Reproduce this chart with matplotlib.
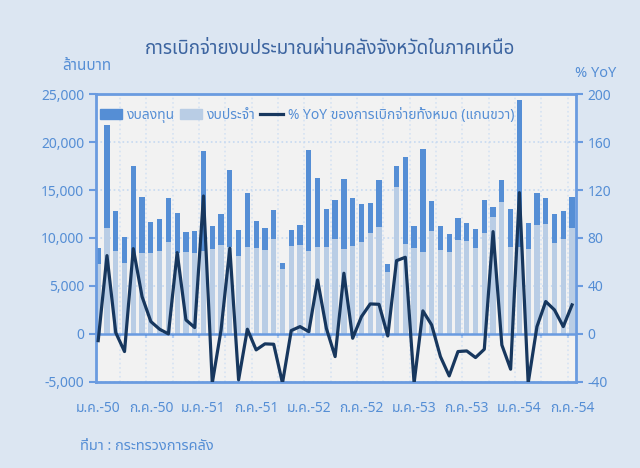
import matplotlib
matplotlib.use("Agg")
import matplotlib.pyplot as plt
import numpy as np
from matplotlib import font_manager
from matplotlib.ft2font import FT2Font
from matplotlib.patches import Patch
from matplotlib.lines import Line2D

# หา font ที่มีอักษรไทย
def thai_font():
    names = []
    for f in font_manager.fontManager.ttflist:
        try:
            if FT2Font(f.fname).get_char_index(0x0E01):
                names.append(f.name)
        except Exception:
            pass
    for pref in ["Tahoma", "Noto Sans Thai", "Noto Sans Thai UI", "Loma", "Garuda", "Sarabun"]:
        if pref in names:
            return pref
    return names[0] if names else "DejaVu Sans"

TH = thai_font()
plt.rcParams["font.family"] = [TH, "DejaVu Sans"]

# ข้อมูล (ล้านบาท) ม.ค.-50 ถึง ก.ค.-54
current = [7330, 11000, 8680, 7430, 7780, 8400, 8400, 8680, 9620, 8470,
           8510, 8470, 8610, 8850, 9270, 9100, 8160, 9100, 8960, 8750,
           9900, 6770, 9170, 9270, 8610, 9030, 9100, 9930, 8820, 9170,
           9580, 10490, 11110, 6490, 15310, 9370, 8960, 8540, 10690, 8750,
           8540, 9790, 9720, 8920, 10560, 12150, 13750, 9030, 9100, 8890,
           11350, 11420, 9480, 9900, 11040]
investment = [1590, 10800, 4170, 2640, 9750, 5870, 3230, 3260, 4580, 4100,
              2080, 2260, 10450, 2400, 3200, 8020, 2640, 5550, 2810, 2260,
              3020, 590, 1700, 2050, 10590, 7220, 3920, 3990, 7290, 5030,
              4000, 3200, 4930, 800, 2150, 9100, 2290, 10700, 3160, 2500,
              1910, 2260, 1870, 2020, 3430, 1110, 2260, 4020, 15270, 2640,
              3300, 2780, 3020, 2880, 3260]
yoy = [-5.6, 65.3, 1.1, -14.7, 71.1, 31.1, 10.3, 3.9, 0.0, 67.8,
       11.7, 5.3, 115.0, -41.0, 3.3, 71.4, -38.3, 3.9, -13.3, -8.3,
       -8.6, -41.0, 2.8, 6.1, 1.9, 45.0, 4.7, -18.9, 50.6, -3.6,
       14.4, 25.0, 24.7, -1.7, 61.1, 63.9, -41.0, 19.2, 7.5, -18.9,
       -35.0, -14.7, -14.2, -19.7, -12.8, 85.3, -9.2, -29.4, 117.8, -41.0,
       6.1, 27.0, 20.0, 6.1, 24.2]
x_labels = ["ม.ค.-50", "ก.ค.-50", "ม.ค.-51", "ก.ค.-51", "ม.ค.-52",
            "ก.ค.-52", "ม.ค.-53", "ก.ค.-53", "ม.ค.-54", "ก.ค.-54"]

c_inv = "#558ed5"
c_cur = "#b9cde5"
c_line = "#17375e"
c_txt = "#558ed5"
c_axis = "#6a9be0"

x = np.arange(len(current))

fig = plt.figure(figsize=(6.4, 4.68), dpi=100, facecolor="#dce6f2")
ax = fig.add_axes([0.15, 0.184, 0.75, 0.615])
ax.set_facecolor("#f2f2f2")

ax.bar(x, current, width=0.6, color=c_cur, zorder=2)
ax.bar(x, investment, width=0.6, bottom=current, color=c_inv, zorder=2)

ax.set_xlim(-0.25, 54.45)
ax.set_ylim(-5000, 25000)
ax.set_yticks(np.arange(-5000, 25001, 5000))
ax.set_yticklabels([f"{v:,}" for v in range(-5000, 25001, 5000)])
ax.set_xticks(np.arange(0, 55, 6))
ax.set_xticklabels(x_labels)
ax.set_xticks(np.arange(2.5, 55, 3), minor=True)
ax.tick_params(axis="x", which="both", length=0, colors=c_txt, labelsize=10, pad=14)
ax.tick_params(axis="y", length=5, width=1.5, color=c_axis, colors=c_txt, labelsize=10)
for lbl in ax.get_yticklabels():
    lbl.set_color(c_txt)
ax.grid(axis="y", color="#c6d9f1", linestyle=":", linewidth=1.2, zorder=0)
ax.grid(axis="x", which="minor", color="#d6e3f3", linestyle=":", linewidth=1.2, zorder=0)
ax.axhline(0, color=c_axis, linewidth=1.8, zorder=3)

for s in ax.spines.values():
    s.set_color(c_axis)
    s.set_linewidth(2)

# tick เล็กบนเส้นศูนย์
zero_ax = ax.secondary_xaxis(5000 / 30000)
zero_ax.set_xticks(np.arange(2.5, 55, 3))
zero_ax.set_xticklabels([])
zero_ax.tick_params(length=3, width=1.5, color=c_axis, direction="out")
zero_ax.spines["bottom"].set_visible(False)

ax2 = ax.twinx()
ax2.plot(x, yoy, color=c_line, linewidth=2.3, zorder=4)
ax2.set_ylim(-40, 200)
ax2.set_yticks(np.arange(-40, 201, 40))
ax2.tick_params(axis="y", length=5, width=1.5, color=c_axis, labelcolor=c_txt, labelsize=10)
for s in ax2.spines.values():
    s.set_visible(False)

handles = [Patch(color=c_inv), Patch(color=c_cur), Line2D([], [], color=c_line, linewidth=2.3)]
labels = ["งบลงทุน", "งบประจำ", "% YoY ของการเบิกจ่ายทั้งหมด (แกนขวา)"]
leg = ax2.legend(handles, labels, loc="upper left", bbox_to_anchor=(-0.01, 0.98), ncol=3,
                 frameon=False, fontsize=10, handlelength=1.6, handletextpad=0.4,
                 columnspacing=0.3, borderaxespad=0.2)
for t in leg.get_texts():
    t.set_color(c_txt)

fig.text(0.515, 0.895, "การเบิกจ่ายงบประมาณผ่านคลังจังหวัดในภาคเหนือ", ha="center", va="center",
         fontsize=13.5, color="#3c64a0")
fig.text(0.097, 0.858, "ล้านบาท", ha="left", va="center", fontsize=11, color=c_txt)
fig.text(0.963, 0.843, "% YoY", ha="right", va="center", fontsize=10.5, color=c_txt)
fig.text(0.125, 0.045, "ที่มา : กระทรวงการคลัง", ha="left", va="center", fontsize=10.5, color=c_txt)

fig.savefig("out.png", dpi=100, facecolor=fig.get_facecolor())
